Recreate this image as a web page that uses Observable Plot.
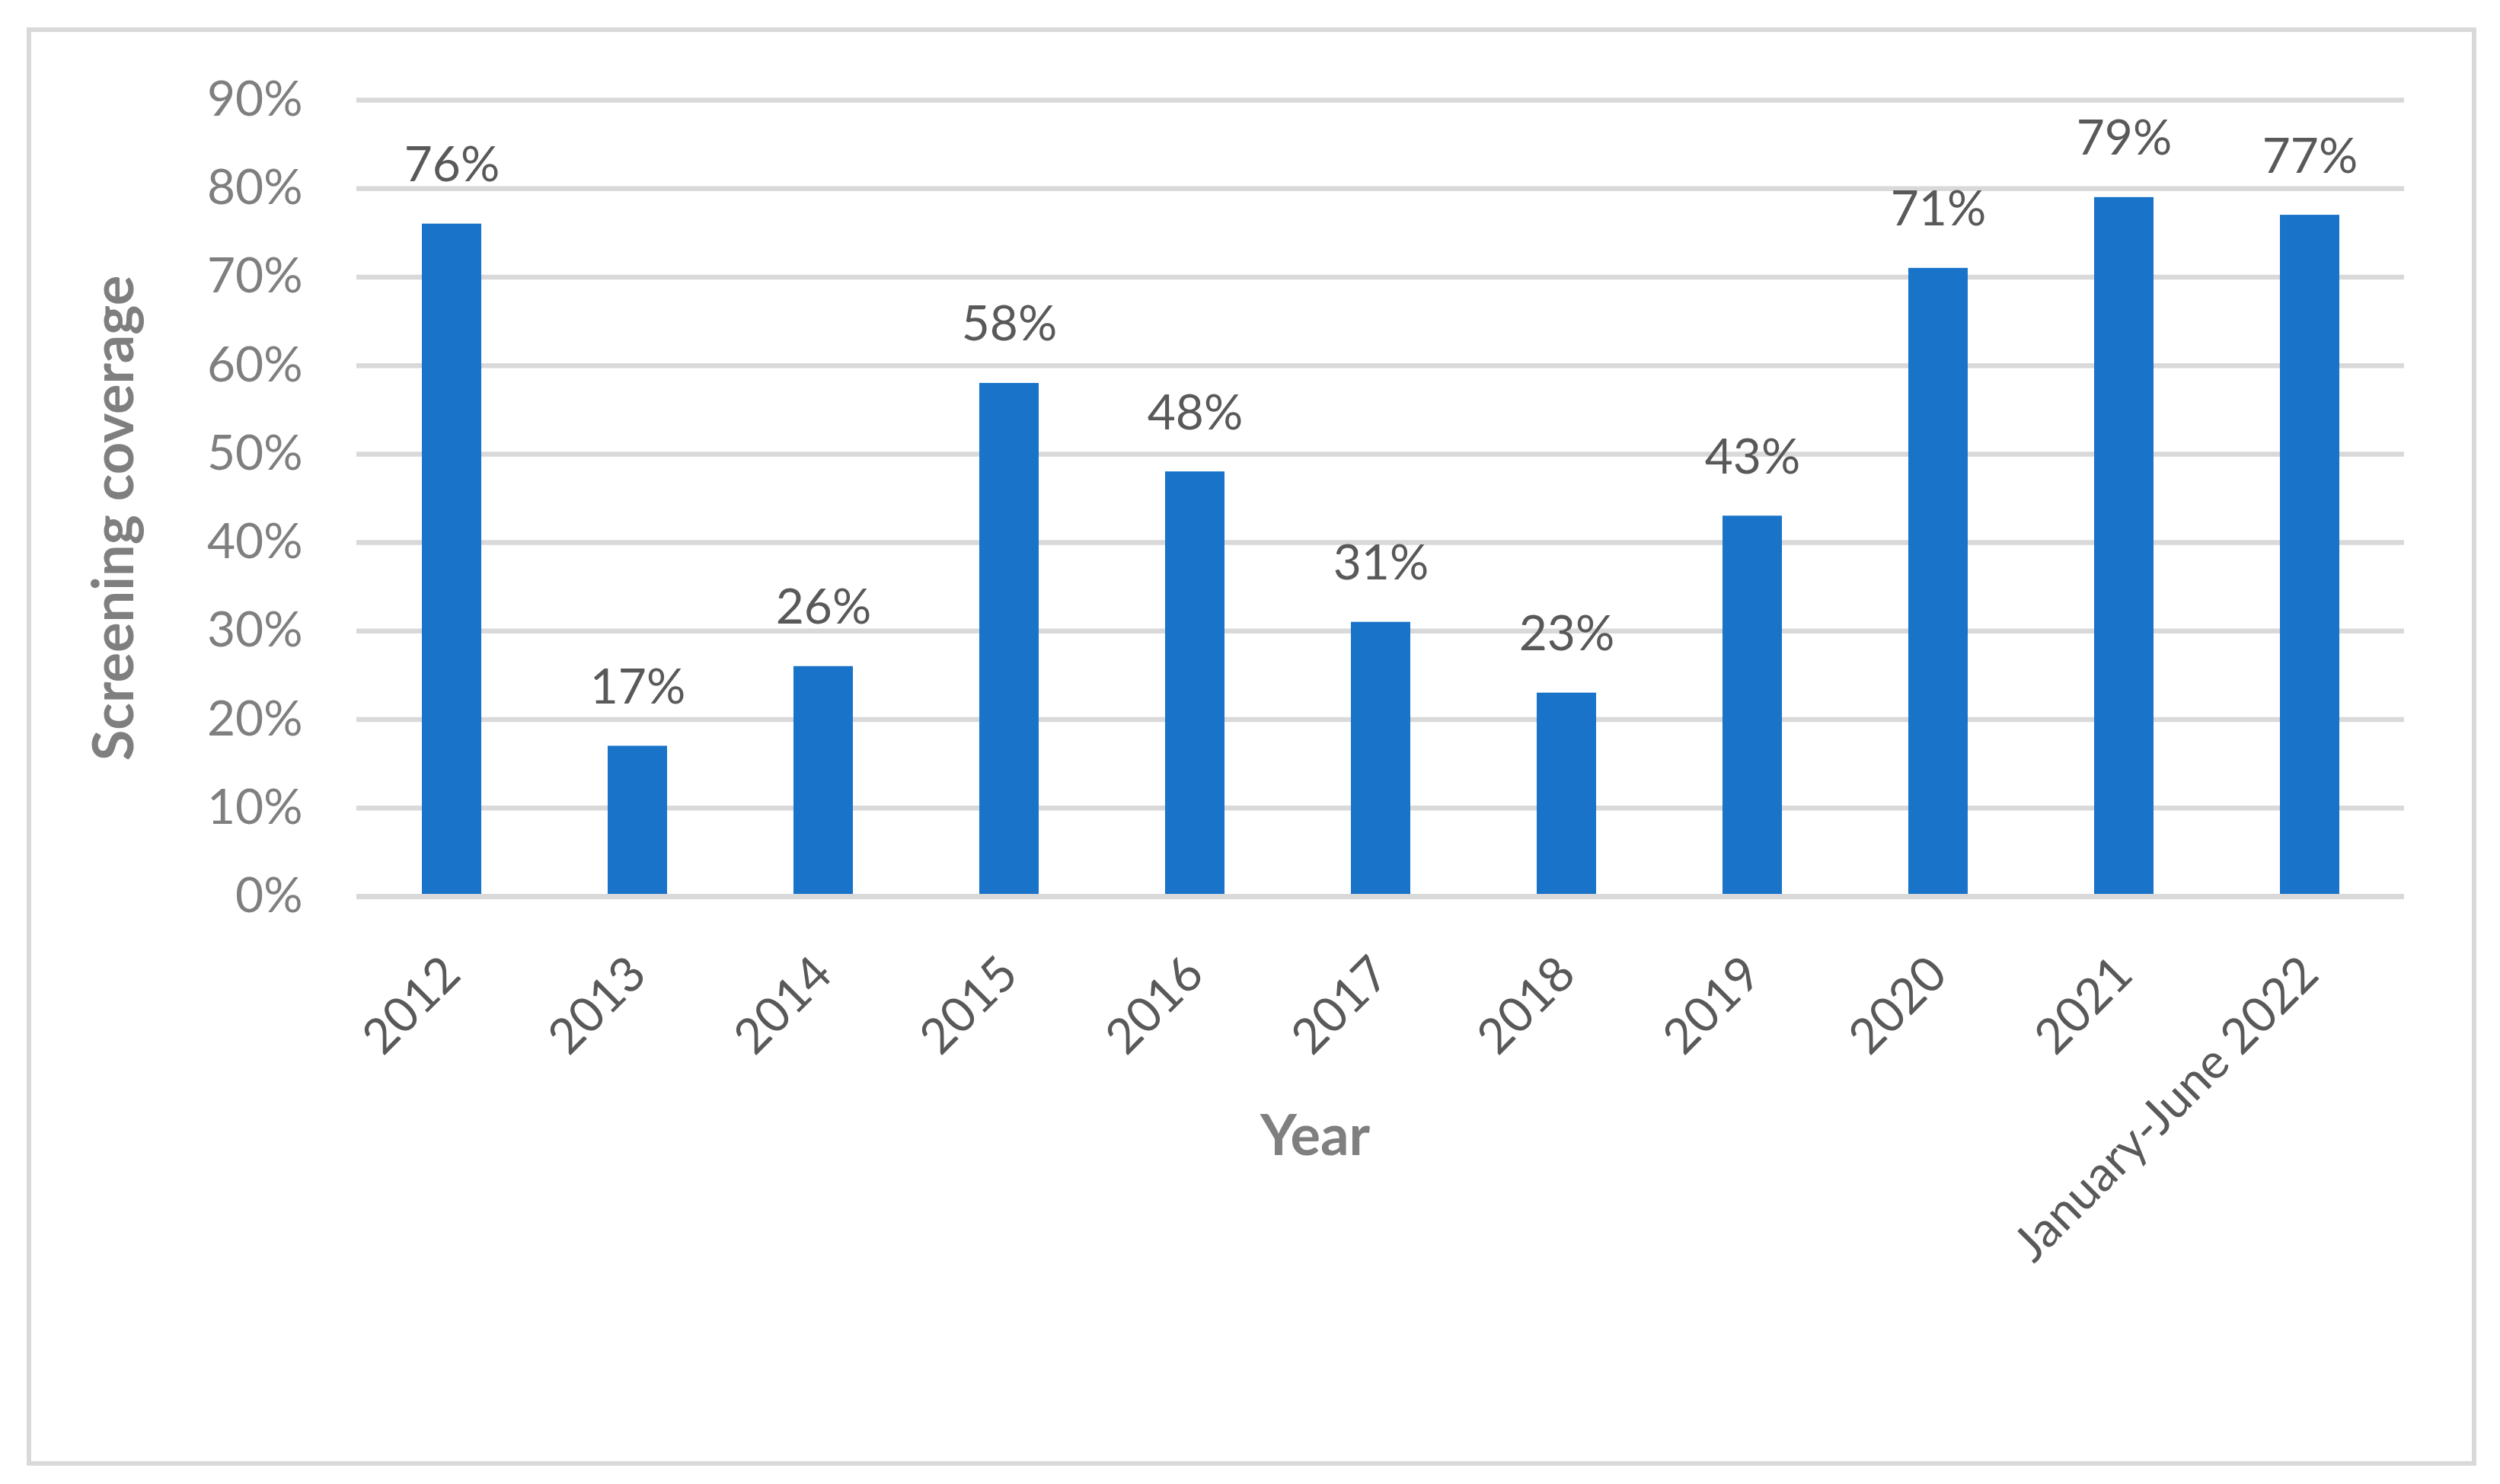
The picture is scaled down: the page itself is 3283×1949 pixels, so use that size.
<!DOCTYPE html>
<html>
<head>
<meta charset="utf-8">
<script src="https://cdn.jsdelivr.net/npm/d3@7"></script>
<script src="https://cdn.jsdelivr.net/npm/@observablehq/plot@0.6"></script>
<style>
  html, body { margin: 0; padding: 0; background: #ffffff; }
  #wrap { position: relative; width: 3283px; height: 1949px; overflow: hidden; }
  #frame { position: absolute; left: 35px; top: 36px; width: 3217px; height: 1889px; box-sizing: border-box; border: 6.5px solid #d9d9d9; pointer-events: none; }
  #chart { position: absolute; left: 0; top: 0; }
</style>
</head>
<body>
<div id="wrap">
  <div id="frame"></div>
  <div id="chart"></div>
</div>
<script>
const categories = ["2012", "2013", "2014", "2015", "2016", "2017", "2018", "2019", "2020", "2021", "January-June 2022"];
const coverage = [0.76, 0.17, 0.26, 0.58, 0.48, 0.31, 0.23, 0.43, 0.71, 0.79, 0.77];
const yTicks = [0, 0.1, 0.2, 0.3, 0.4, 0.5, 0.6, 0.7, 0.8, 0.9];
const xTitle = "Year";
const yTitle = "Screening coverage";

const data = categories.map((c, i) => ({year: c, value: coverage[i]}));
const pct = v => Math.round(v * 100) + "%";

const chart = Plot.plot({
  width: 3283,
  height: 1949,
  marginLeft: 468,
  marginRight: 126,
  marginTop: 131,
  marginBottom: 772,
  style: {fontFamily: "Lato, 'Open Sans', sans-serif", background: "transparent", overflow: "visible"},
  x: {domain: categories, paddingInner: 0.681, paddingOuter: 0.3405, label: null},
  y: {domain: [0, 0.9], label: null},
  marks: [
    Plot.ruleY(yTicks.filter(t => t > 0), {stroke: "#d9d9d9", strokeWidth: 6.5}),
    Plot.barY(data, {x: "year", y: "value", fill: "#1873c9"}),
    Plot.ruleY([0], {stroke: "#d9d9d9", strokeWidth: 7}),
    Plot.text(data, {x: "year", y: "value", text: d => pct(d.value), lineAnchor: "bottom", dy: -56, fontSize: 64, fill: "#595959"}),
    Plot.axisY({ticks: yTicks, tickFormat: pct, tickSize: 0, tickPadding: 71, fontSize: 64, fill: "#7f7f7f", label: null}),
    Plot.axisX({tickRotate: -45, tickSize: 0, tickPadding: 91, fontSize: 64, fill: "#595959", label: null}),
    Plot.text([xTitle], {frameAnchor: "bottom", textAnchor: "middle", dx: -86, dy: 339, fontSize: 74, fontWeight: "bold", fill: "#7f7f7f"}),
    Plot.text([yTitle], {frameAnchor: "left", textAnchor: "middle", rotate: -90, dx: -317, dy: 26, fontSize: 74, fontWeight: "bold", fill: "#7f7f7f"})
  ]
});
document.getElementById("chart").appendChild(chart);
</script>
</body>
</html>
